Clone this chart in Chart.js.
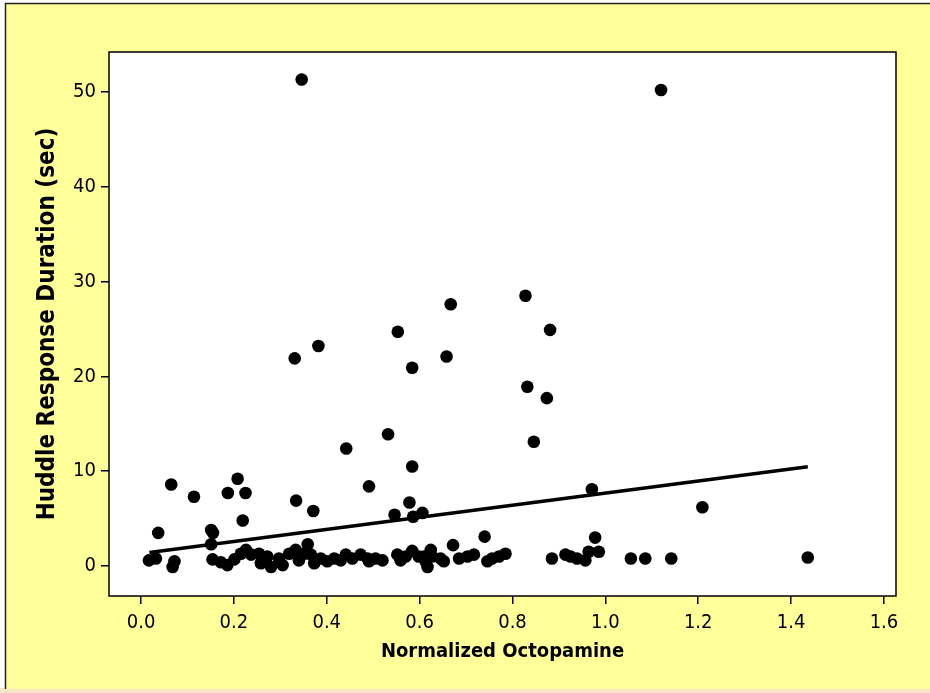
<!DOCTYPE html>
<html lang="en">
<head>
  <meta charset="UTF-8" />
  <title>Huddle Response Duration vs Normalized Octopamine</title>
  <script src="https://cdn.jsdelivr.net/npm/chart.js@4.4.1/dist/chart.umd.min.js"></script>
  <style>
    body {
      margin: 0;
      background: #ffffff;
    }
    #wrap {
      width: 930px;
      height: 693px;
    }
  </style>
</head>
<body>
  <div id="wrap">
    <canvas id="scatterChart" width="930" height="693"></canvas>
  </div>

  <script>
    // values
    const octopamine = [
      0.346, 1.120, 0.667, 0.828, 0.553, 0.881, 0.331, 0.382, 0.658, 0.584,
      0.832, 0.874, 0.846, 0.532, 0.442, 0.584, 0.065, 0.114, 0.208, 0.187,
      0.225, 0.491, 0.334, 0.578, 0.371, 0.219, 1.209, 0.971, 0.037, 0.546,
      0.586, 0.606, 0.978, 0.740, 0.672, 0.359, 0.151, 0.155, 0.151,
      0.017, 0.032, 0.072, 0.068, 0.154, 0.172, 0.186, 0.201, 0.215, 0.226,
      0.237, 0.254, 0.258, 0.272, 0.280, 0.297, 0.305, 0.319, 0.333, 0.340,
      0.351, 0.366, 0.373, 0.387, 0.401, 0.416, 0.430, 0.441, 0.455, 0.473,
      0.488, 0.491, 0.505, 0.520, 0.552, 0.559, 0.570, 0.584, 0.598, 0.613,
      0.624, 0.627, 0.617, 0.645, 0.652, 0.685, 0.703, 0.717, 0.746, 0.756,
      0.771, 0.785, 0.885, 0.914, 0.925, 0.939, 0.957, 0.964, 0.986, 1.055,
      1.086, 1.142, 1.436, 0.609
    ];
    const duration = [
      51.3, 50.2, 27.6, 28.5, 24.7, 24.9, 21.9, 23.2, 22.1, 20.9,
      18.9, 17.7, 13.1, 13.9, 12.4, 10.5, 8.6, 7.3, 9.2, 7.7,
      7.7, 8.4, 6.9, 6.7, 5.8, 4.8, 6.2, 8.1, 3.5, 5.4,
      5.2, 5.6, 3.0, 3.1, 2.2, 2.3, 3.8, 3.5, 2.3,
      0.6, 0.8, 0.5, -0.1, 0.7, 0.4, 0.1, 0.7, 1.3, 1.7,
      1.2, 1.3, 0.3, 1.0, -0.1, 0.8, 0.1, 1.3, 1.7, 0.6,
      1.3, 1.2, 0.3, 0.8, 0.5, 0.8, 0.6, 1.2, 0.8, 1.2,
      0.8, 0.5, 0.8, 0.6, 1.2, 0.6, 1.0, 1.6, 1.0, 0.5,
      1.7, 1.0, -0.1, 0.8, 0.5, 0.8, 1.0, 1.2, 0.5, 0.8,
      1.0, 1.3, 0.8, 1.2, 1.0, 0.8, 0.6, 1.5, 1.5, 0.8,
      0.8, 0.8, 0.9, 1.0
    ];

    // fitted line, drawn from the smallest to the largest x
    const fitX = [0.018, 1.436];
    const fitY = [1.42, 10.47];

    const xTicks = [0, 0.2, 0.4, 0.6, 0.8, 1.0, 1.2, 1.4, 1.6];
    const yTicks = [0, 10, 20, 30, 40, 50];

    const points = octopamine.map((x, i) => ({ x: x, y: duration[i] }));
    const fitLine = fitX.map((x, i) => ({ x: x, y: fitY[i] }));

    const fontStack = "'DejaVu Sans Condensed', 'Liberation Sans Narrow', 'DejaVu Sans', sans-serif";
    const tickFont = { family: fontStack, size: 20 };
    const xTitleFont = { family: fontStack, size: 20, weight: 'bold' };
    const yTitleFont = { family: fontStack, size: 24, weight: 'bold' };

    // yellow panel, white plot area and the box around it
    const framePlugin = {
      id: 'frame',
      beforeDraw(chart) {
        const c = chart.ctx;
        const a = chart.chartArea;
        c.save();
        c.fillStyle = '#ffffff';
        c.fillRect(0, 0, chart.width, chart.height);
        c.fillStyle = '#fbe4c6';
        c.fillRect(0, 688, chart.width, chart.height - 688);
        c.fillStyle = '#ffff99';
        c.fillRect(5, 3, chart.width - 5, 686);
        c.strokeStyle = '#222';
        c.lineWidth = 1.5;
        c.beginPath();
        c.moveTo(5.5, 689);
        c.lineTo(5.5, 3.5);
        c.lineTo(chart.width, 3.5);
        c.stroke();
        c.fillStyle = '#ffffff';
        c.fillRect(a.left, a.top, a.right - a.left, a.bottom - a.top);
        c.restore();
      },
      afterDatasetsDraw(chart) {
        const c = chart.ctx;
        const a = chart.chartArea;
        c.save();
        c.strokeStyle = '#000';
        c.lineWidth = 1.5;
        c.strokeRect(a.left, a.top, a.right - a.left, a.bottom - a.top);
        c.restore();
      }
    };

    const ctx = document.getElementById('scatterChart').getContext('2d');
    new Chart(ctx, {
      type: 'scatter',
      data: {
        datasets: [
          {
            label: 'Fit',
            data: fitLine,
            showLine: true,
            borderColor: '#000',
            borderWidth: 3.5,
            pointRadius: 0,
            order: 1
          },
          {
            label: 'Data',
            data: points,
            backgroundColor: '#000',
            borderColor: '#000',
            borderWidth: 0,
            pointRadius: 6.3,
            order: 0
          }
        ]
      },
      options: {
        responsive: false,
        animation: false,
        devicePixelRatio: 1,
        layout: { padding: { left: 30, right: 34, top: 52, bottom: 21 } },
        plugins: {
          legend: { display: false },
          tooltip: { enabled: false }
        },
        scales: {
          x: {
            type: 'linear',
            min: -0.069,
            max: 1.626,
            afterBuildTicks: (scale) => { scale.ticks = xTicks.map(v => ({ value: v })); },
            afterFit: (scale) => { scale.height = 76; },
            grid: { drawOnChartArea: false, drawTicks: true, tickLength: 8, color: '#000', lineWidth: 1.5 },
            border: { display: false },
            ticks: {
              color: '#000',
              font: tickFont,
              padding: 7,
              maxRotation: 0,
              callback: (v) => Number(v).toFixed(1)
            },
            title: {
              display: true,
              text: 'Normalized Octopamine',
              color: '#000',
              font: xTitleFont,
              padding: { top: 0, bottom: 8 }
            }
          },
          y: {
            type: 'linear',
            min: -3.16,
            max: 54.2,
            afterBuildTicks: (scale) => { scale.ticks = yTicks.map(v => ({ value: v })); },
            afterFit: (scale) => { scale.width = 79; },
            grid: { drawOnChartArea: false, drawTicks: true, tickLength: 8, color: '#000', lineWidth: 1.5 },
            border: { display: false },
            ticks: {
              color: '#000',
              font: tickFont,
              padding: 5,
              callback: (v) => String(v)
            },
            title: {
              display: true,
              text: 'Huddle Response Duration (sec)',
              color: '#000',
              font: yTitleFont,
              padding: { top: 3, bottom: 0 }
            }
          }
        }
      },
      plugins: [framePlugin]
    });
  </script>
</body>
</html>
